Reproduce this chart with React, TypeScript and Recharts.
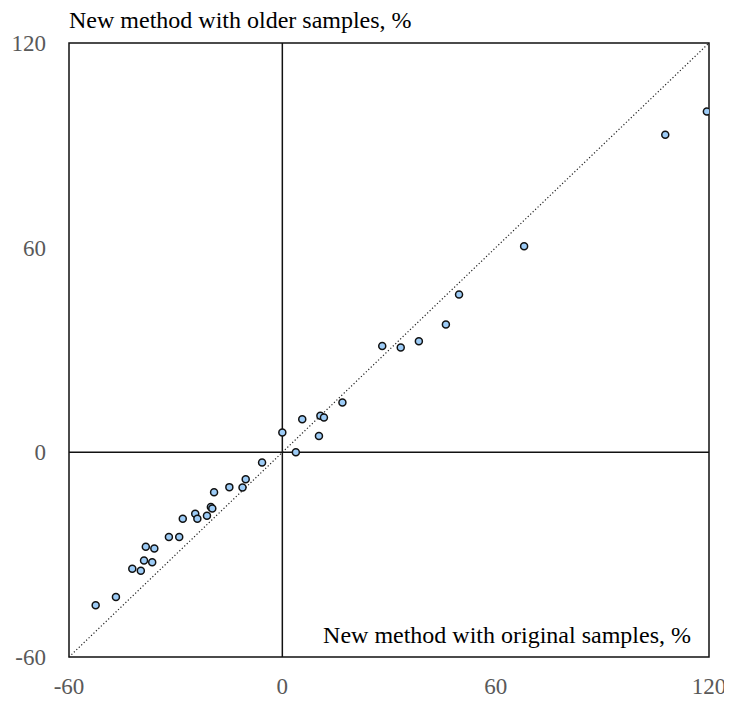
import React from "react";
import {
  ScatterChart,
  Scatter,
  XAxis,
  YAxis,
  ReferenceLine,
  ReferenceArea,
} from "recharts";

const originalX = [
  -52.5, -46.8, -42.2, -39.8, -38.9, -36.6, -38.4, -36.0, -31.9, -29.0, -28.0,
  -24.5, -23.9, -21.2, -20.1, -19.7, -19.2, -14.9, -11.2, -10.3, -5.7, 0.0, 3.8,
  5.6, 10.3, 10.7, 11.7, 16.9, 28.1, 33.3, 38.4, 46.0, 49.7, 68.0, 107.7, 119.4,
];
const olderY = [
  -44.8, -42.4, -34.1, -34.7, -31.7, -32.2, -27.7, -28.2, -24.8, -24.8, -19.5,
  -18.0, -19.5, -18.6, -16.0, -16.5, -11.7, -10.2, -10.3, -7.9, -3.0, 5.8, 0.0,
  9.7, 4.8, 10.7, 10.2, 14.6, 31.2, 30.7, 32.6, 37.5, 46.3, 60.4, 93.1, 99.9,
];
const axisTicks = [-60, 0, 60, 120];
const yTitle = "New method with older samples, %";
const xTitle = "New method with original samples, %";

const data = originalX.map((x, i) => ({ x, y: olderY[i] }));

const FONT = "'Liberation Serif', 'Times New Roman', serif";
const TICK_COLOR = "#595959";

const XTick = (props: any) => {
  const { x, y, payload } = props;
  return (
    <text
      x={x}
      y={y}
      dy={29}
      textAnchor="middle"
      fontFamily={FONT}
      fontSize={23}
      fill={TICK_COLOR}
    >
      {payload.value}
    </text>
  );
};

const YTick = (props: any) => {
  const { x, y, payload } = props;
  return (
    <text
      x={x - 15}
      y={y}
      dy={8}
      textAnchor="end"
      fontFamily={FONT}
      fontSize={23}
      fill={TICK_COLOR}
    >
      {payload.value}
    </text>
  );
};

const Dot = (props: any) => {
  const { cx, cy } = props;
  return (
    <circle cx={cx} cy={cy} r={3.5} fill="#9DCCF7" stroke="#111" strokeWidth={1.5} />
  );
};

export default function App() {
  return (
    <div style={{ position: "relative", width: 716, height: 686 }}>
      <style>{"svg.recharts-surface{overflow:visible}"}</style>
      <ScatterChart
        width={716}
        height={686}
        margin={{ top: 35, right: 15, bottom: 0, left: 0 }}
      >
        <XAxis
          type="number"
          dataKey="x"
          domain={[-60, 120]}
          ticks={axisTicks}
          allowDataOverflow
          axisLine={false}
          tickLine={false}
          height={37}
          tick={<XTick />}
        />
        <YAxis
          type="number"
          dataKey="y"
          domain={[-60, 120]}
          ticks={axisTicks}
          allowDataOverflow
          axisLine={false}
          tickLine={false}
          width={61}
          tick={<YTick />}
        />
        <ReferenceArea
          x1={-60}
          x2={120}
          y1={-60}
          y2={120}
          fill="none"
          fillOpacity={0}
          stroke="#111"
          strokeWidth={1.5}
        />
        <ReferenceLine x={0} stroke="#111" strokeWidth={1.5} />
        <ReferenceLine y={0} stroke="#111" strokeWidth={1.5} />
        <ReferenceLine
          segment={[
            { x: -60, y: -60 },
            { x: 120, y: 120 },
          ]}
          stroke="#222"
          strokeWidth={1.2}
          strokeDasharray="1.2 2.2"
        />
        <Scatter data={data} shape={<Dot />} isAnimationActive={false} />
      </ScatterChart>
      <div
        style={{
          position: "absolute",
          left: 61,
          top: 0,
          fontFamily: FONT,
          fontSize: 24,
          lineHeight: "24px",
          color: "#000",
          whiteSpace: "pre",
        }}
      >
        {yTitle}
      </div>
      <div
        style={{
          position: "absolute",
          right: 33,
          top: 615,
          fontFamily: FONT,
          fontSize: 24,
          lineHeight: "24px",
          color: "#000",
          whiteSpace: "pre",
        }}
      >
        {xTitle}
      </div>
    </div>
  );
}
